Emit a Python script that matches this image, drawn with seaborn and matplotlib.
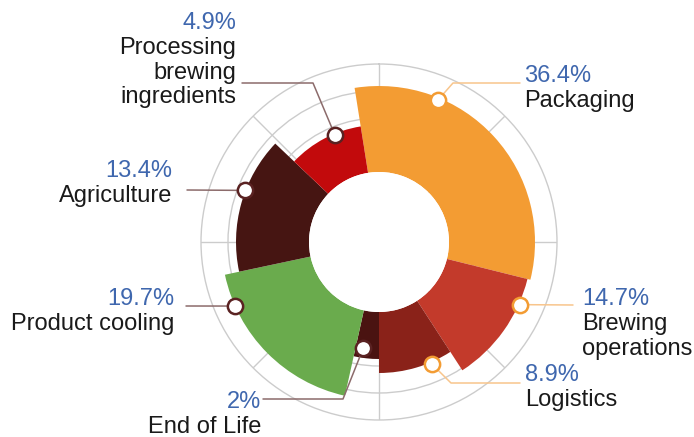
import numpy as np
import matplotlib
matplotlib.use('Agg')
import matplotlib.pyplot as plt
import seaborn as sns
from matplotlib.lines import Line2D

# data, clockwise from the top
categories = ['Packaging', 'Brewing\noperations', 'Logistics', 'End of Life',
              'Product cooling', 'Agriculture', 'Processing\nbrewing\ningredients']
shares = ['36.4%', '14.7%', '8.9%', '2%', '19.7%', '13.4%', '4.9%']
span_deg = [113, 43, 33, 12.5, 65.5, 55.5, 37.5]      # angular size of each slice
reach = [156, 153, 131, 117, 157.5, 143, 117]          # outer radius (hole = 70, rim = 178)
colors = ['#F39C33', '#C33A2B', '#8A2219', '#4A1311', '#6AAB4D', '#461512', '#C20A0C']

W, H = 694, 437
sns.set_theme(style='white')
plt.rcParams['font.family'] = ['Liberation Sans', 'DejaVu Sans']

fig = plt.figure(figsize=(W / 100, H / 100), dpi=100)
cx, cy, R = 379, 242, 178
ax = fig.add_axes([(cx - R) / W, (H - cy - R) / H, 2 * R / W, 2 * R / H], projection='polar')
ax.set_theta_zero_location('N')
ax.set_theta_direction(-1)
ax.set_rlim(0, 178)

hole = 70
start = -9
edges = start + np.concatenate([[0], np.cumsum(span_deg)[:-1]])
centers = np.deg2rad(edges + np.array(span_deg) / 2)
heights = np.array(reach) - hole
ax.bar(centers, heights, width=np.deg2rad(span_deg), bottom=hole, color=colors,
       linewidth=0, align='center', zorder=2)
# white hole in the middle hides the spokes
ax.bar([0], [hole], width=2 * np.pi, bottom=0, color='white', linewidth=0, zorder=2.5)

ax.set_axisbelow(True)
ax.set_xticks(np.deg2rad(np.arange(0, 360, 45)))
ax.set_yticks([97, 124, 151])
ax.set_xticklabels([])
ax.set_yticklabels([])
ax.grid(True, color='#cccccc', linewidth=1)
ax.spines['polar'].set_color('#cccccc')
ax.spines['polar'].set_linewidth(1)

# markers and leader lines
mark_deg = [22.6, 114, 156.6, 188.4, 246, 291, 337.6]
mark_inset = [2, -1, -2, 10, 0, -1, 1]
brown, orange = '#5a2222', '#F39C33'
mark_edge = [orange, orange, orange, brown, brown, brown, brown]
lead_col = ['#F8C58C'] * 3 + ['#8c6b6b'] * 4
elbows = [[(453, 83), (520, 83)],
          [(573, 305)],
          [(451, 383), (520, 383)],
          [(343, 399), (263, 399)],
          [(186, 306)],
          [(187, 190)],
          [(313, 83), (242, 83)]]

fig.canvas.draw()
to_fig = fig.transFigure.inverted()
for i in range(len(categories)):
    th = np.deg2rad(mark_deg[i])
    r = reach[i] - mark_inset[i]
    p0 = to_fig.transform(ax.transData.transform((th, r)))
    pts = [p0] + [(x / W, 1 - y / H) for x, y in elbows[i]]
    xs, ys = zip(*pts)
    ax.add_line(Line2D(xs, ys, transform=fig.transFigure, color=lead_col[i],
                       linewidth=1.1, zorder=3, clip_on=False))
    ax.plot([th], [r], 'o', markersize=11, markerfacecolor='white',
            markeredgecolor=mark_edge[i], markeredgewidth=1.8, zorder=5, clip_on=False)

# labels: (x, percent baseline, ha)
label_pos = [(524, 82, 'left'), (582, 305, 'left'), (525, 381, 'left'),
             (261, 408, 'right'), (174, 305, 'right'), (172, 177, 'right'),
             (236, 29, 'right')]
blue, dark = '#3F67AE', '#1a1a1a'
for i, (x, yb, ha) in enumerate(label_pos):
    fig.text(x / W, 1 - yb / H, shares[i], ha=ha, va='baseline', fontsize=17, color=blue)
    for j, line in enumerate(categories[i].split('\n')):
        fig.text(x / W, 1 - (yb + 25 + 24.5 * j) / H, line, ha=ha, va='baseline',
                 fontsize=17, color=dark)

fig.savefig('out.png', dpi=100)
